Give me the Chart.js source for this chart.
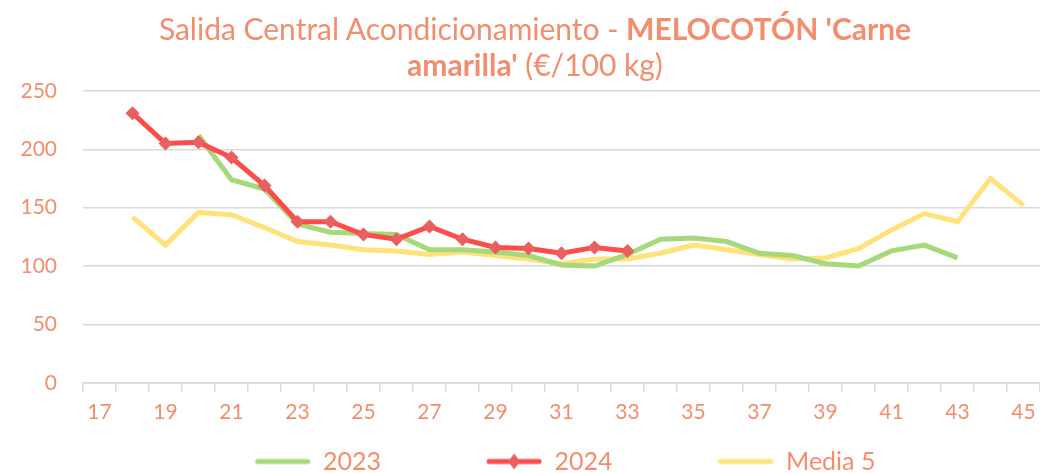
<!DOCTYPE html>
<html>
<head>
<meta charset="utf-8">
<script src="https://cdn.jsdelivr.net/npm/chart.js@4/dist/chart.umd.min.js"></script>
<style>
    html, body { margin: 0; padding: 0; background: #fff; }
    #wrap { position: relative; width: 1040px; height: 473px; }
    #title {
        position: absolute; left: 0; top: 10px; width: 1070px;
        text-align: center; font-family: Lato, 'Open Sans', sans-serif;
        font-size: 30px; line-height: 36px; color: #F28E6D;
    }
    #title b { font-weight: 700; }
</style>
</head>
<body>
<div id="wrap">
    <canvas id="myLineChart" width="1040" height="473"></canvas>
    <div id="title">Salida Central Acondicionamiento - <b>MELOCOTÓN 'Carne</b><br><b>amarilla'</b> (€/100 kg)</div>
</div>
<script>
// semanas (eje x)
const weeks = ['17','18','19','20','21','22','23','24','25','26','27','28','29','30','31','32','33','34','35','36','37','38','39','40','41','42','43','44','45'];

// series
const values2023 = [null, null, null, 212, 174, 166, 136, 129, 128, 127, 114, 114, 112, 109, 101, 100, 110, 123, 124, 121, 111, 109, 102, 100, 113, 118, 107, null, null];
const values2024 = [null, 231, 205, 206, 193, 169, 138, 138, 127, 123, 134, 123, 116, 115, 111, 116, 113, null, null, null, null, null, null, null, null, null, null, null, null];
const valuesMedia5 = [null, 142, 118, 146, 144, 133, 121, 118, 114, 113, 110, 112, 109, 106, 102, 106, 106, 111, 118, 114, 110, 106, 107, 115, 131, 145, 138, 175, 152];

const yTicks = [0, 50, 100, 150, 200, 250];

const textColor = '#F28E6D';
const green = '#A6D979';
const red = '#FF4B4B';
const redMarker = '#E8605F';
const yellow = '#FFE27A';

// icono de leyenda: línea (con rombo opcional), con hueco transparente a la izquierda
const iconGap = 89;
function legendIcon(color, markerColor) {
    const c = document.createElement('canvas');
    c.width = iconGap + 56;
    c.height = 18;
    const g = c.getContext('2d');
    g.strokeStyle = color;
    g.lineWidth = 5;
    g.lineCap = 'round';
    g.beginPath();
    g.moveTo(iconGap + 3, 9);
    g.lineTo(iconGap + 53, 9);
    g.stroke();
    if (markerColor) {
        g.fillStyle = markerColor;
        g.beginPath();
        g.moveTo(iconGap + 28, 1);
        g.lineTo(iconGap + 34, 9);
        g.lineTo(iconGap + 28, 17);
        g.lineTo(iconGap + 22, 9);
        g.closePath();
        g.fill();
    }
    return c;
}

const ctx = document.getElementById('myLineChart').getContext('2d');

window.myChart = new Chart(ctx, {
    type: 'line',
    data: {
        labels: weeks,
        datasets: [{
            label: '2023',
            data: values2023,
            borderColor: green,
            backgroundColor: green,
            borderWidth: 5,
            pointRadius: 0,
            tension: 0,
            order: 1
        }, {
            label: '2024',
            data: values2024,
            borderColor: red,
            backgroundColor: redMarker,
            borderWidth: 5,
            pointStyle: 'rectRot',
            pointRadius: 7,
            pointBorderWidth: 0,
            pointBackgroundColor: redMarker,
            tension: 0,
            order: 0
        }, {
            label: 'Media 5',
            data: valuesMedia5,
            borderColor: yellow,
            backgroundColor: yellow,
            borderWidth: 5,
            pointRadius: 0,
            tension: 0,
            order: 2
        }]
    },
    options: {
        responsive: false,
        animation: false,
        layout: {
            autoPadding: false,
            padding: { top: 91, left: 0, right: -1, bottom: -11 }
        },
        scales: {
            x: {
                type: 'category',
                offset: true,
                afterFit: function(axis) {
                    // sin reserva extra a los lados: el área llega al borde derecho
                    axis.paddingLeft = 0;
                    axis.paddingRight = 0;
                },
                grid: {
                    offset: true,
                    drawOnChartArea: false,
                    drawTicks: true,
                    tickLength: 9,
                    color: '#d9d9d9',
                    lineWidth: 1.5
                },
                border: { color: '#d9d9d9', width: 1.5 },
                ticks: {
                    autoSkip: false,
                    maxRotation: 0,
                    color: textColor,
                    padding: 8,
                    font: { family: 'Lato', size: 21 },
                    callback: function(value, index) {
                        return index % 2 === 0 ? weeks[index] : '';
                    }
                }
            },
            y: {
                min: 0,
                max: 250,
                afterBuildTicks: function(axis) {
                    axis.ticks = yTicks.map(v => ({ value: v }));
                },
                afterFit: function(axis) {
                    axis.width = 83;
                },
                grid: {
                    color: '#d9d9d9',
                    lineWidth: 1.5,
                    drawTicks: false
                },
                border: { display: false },
                ticks: {
                    color: textColor,
                    padding: 26,
                    font: { family: 'Lato', size: 21 }
                }
            }
        },
        plugins: {
            title: { display: false },
            tooltip: { enabled: false },
            legend: {
                position: 'bottom',
                labels: {
                    color: textColor,
                    font: { family: 'Lato', size: 25 },
                    usePointStyle: true,
                    pointStyleWidth: iconGap + 56,
                    boxHeight: 18,
                    padding: 16,
                    generateLabels: function(chart) {
                        const icons = [legendIcon(green), legendIcon(red, redMarker), legendIcon(yellow)];
                        return chart.data.datasets.map((ds, i) => ({
                            text: ds.label,
                            fontColor: textColor,
                            pointStyle: icons[i],
                            datasetIndex: i,
                            hidden: false,
                            lineWidth: 0
                        }));
                    }
                }
            }
        }
    }
});
</script>
</body>
</html>
